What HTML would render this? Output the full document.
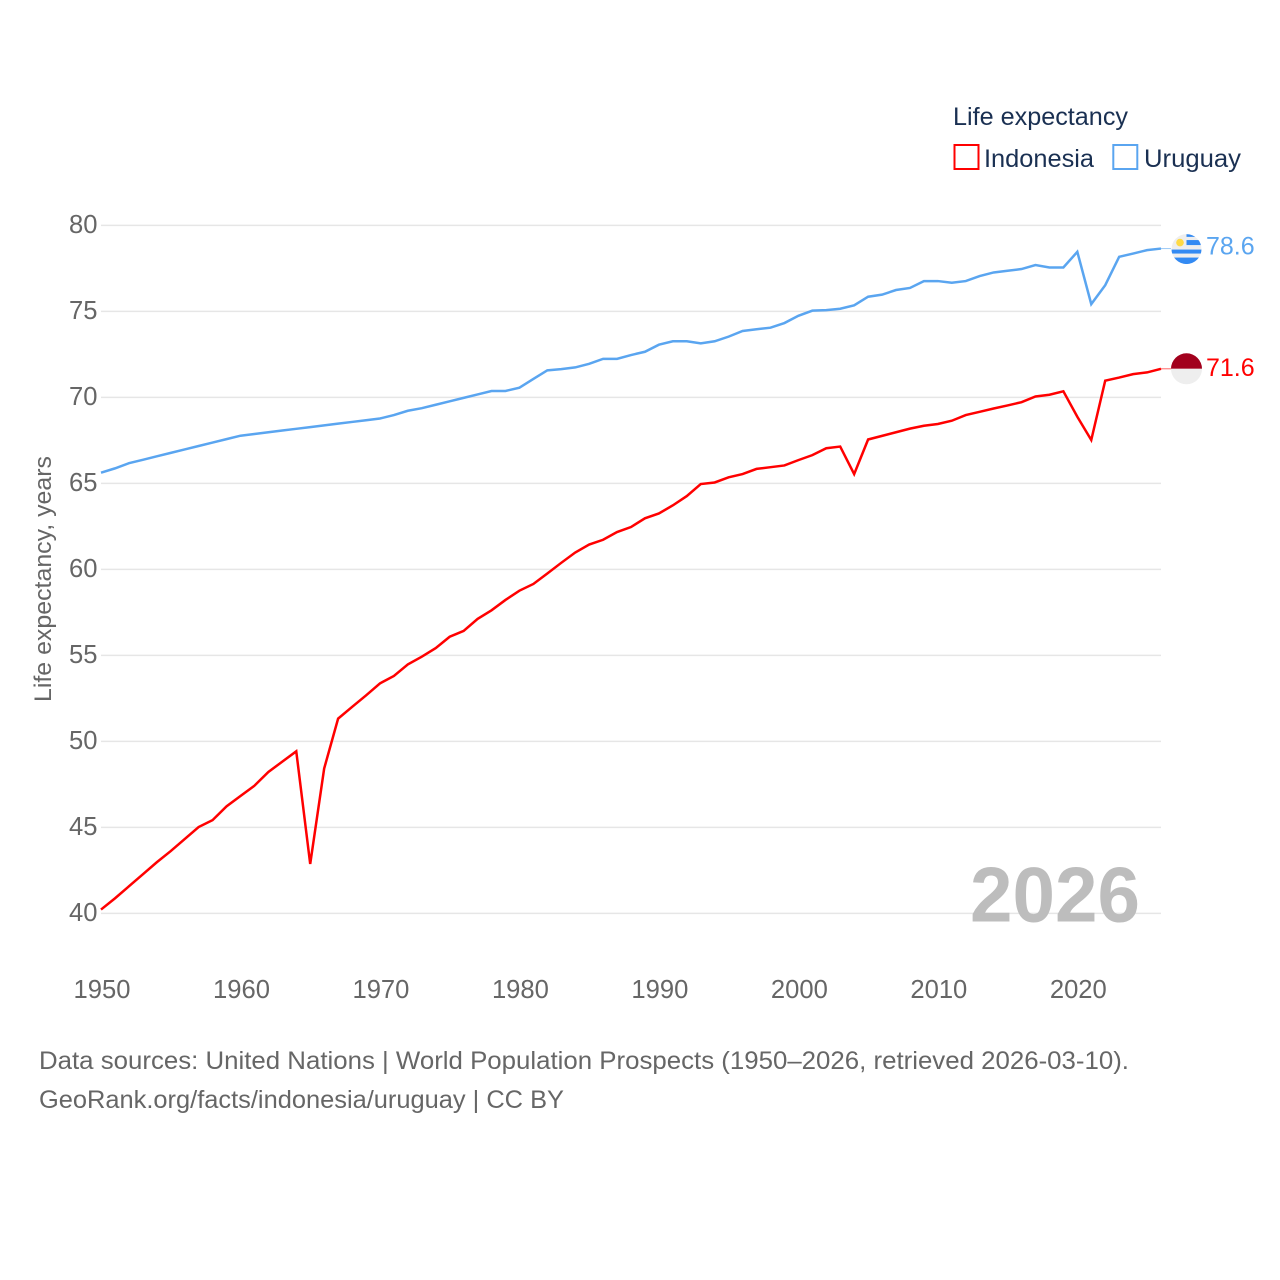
<!DOCTYPE html>
<html lang="en">
<head>
<meta charset="utf-8">
<title>Life expectancy: Indonesia and Uruguay</title>
<style>
html,body{margin:0;padding:0;background:#fff;width:1280px;height:1280px;overflow:hidden}
svg{display:block}
text{font-family:"Liberation Sans",sans-serif}
</style>
</head>
<body>
<svg id="chart" xmlns="http://www.w3.org/2000/svg" width="1280" height="1280" viewBox="0 0 1280 1280">
  <rect x="0" y="0" width="1280" height="1280" fill="#fff"/>
  <g id="grid"></g>
  <g id="yticks"></g>
  <g id="xticks"></g>
  <text transform="translate(51,702) rotate(-90)" font-size="24" fill="#666" textLength="246" lengthAdjust="spacingAndGlyphs">Life expectancy, years</text>

  <text x="970" y="921.5" font-size="78" font-weight="700" fill="#bdbdbd" textLength="170" lengthAdjust="spacingAndGlyphs">2026</text>

  <g id="series"></g>

  <g id="flag-uruguay">
    <defs>
      <clipPath id="clip-uy"><circle cx="0" cy="0" r="15"/></clipPath>
      <clipPath id="clip-id"><circle cx="0" cy="0" r="15.5"/></clipPath>
    </defs>
    <g clip-path="url(#clip-uy)">
      <rect x="-15" y="-15" width="30" height="30" fill="#eee"/>
      <rect x="0" y="-15" width="15" height="2.8" fill="#338af3"/>
      <rect x="0" y="-9" width="15" height="5" fill="#338af3"/>
      <rect x="-15" y="0.5" width="30" height="4" fill="#338af3"/>
      <rect x="-15" y="8.5" width="30" height="6.5" fill="#338af3"/>
      <circle cx="-6.5" cy="-6.5" r="3.8" fill="#ffda44"/>
    </g>
  </g>
  <g id="flag-indonesia">
    <g clip-path="url(#clip-id)">
      <rect x="-16" y="-16" width="32" height="16" fill="#a2001d"/>
      <rect x="-16" y="0" width="32" height="16" fill="#eee"/>
    </g>
  </g>
  <text id="label-uruguay" x="1206" font-size="25" fill="#5aa5f0"></text>
  <text id="label-indonesia" x="1206" font-size="25" fill="#f00"></text>

  <g>
    <text x="953" y="125" font-size="25" fill="#1a3052" textLength="175" lengthAdjust="spacingAndGlyphs">Life expectancy</text>
    <g>
      <rect x="954.5" y="145" width="24" height="24" fill="none" stroke="#f00" stroke-width="2"/>
      <text x="984" y="167" font-size="25" fill="#1a3052" textLength="110" lengthAdjust="spacingAndGlyphs">Indonesia</text>
    </g>
    <g>
      <rect x="1113.3" y="145" width="24" height="24" fill="none" stroke="#5aa5f0" stroke-width="2"/>
      <text x="1144" y="167" font-size="25" fill="#1a3052" textLength="97" lengthAdjust="spacingAndGlyphs">Uruguay</text>
    </g>
  </g>

  <text x="39" y="1069" font-size="25" fill="#666" textLength="1090" lengthAdjust="spacingAndGlyphs">Data sources: United Nations | World Population Prospects (1950–2026, retrieved 2026-03-10).</text>
  <text x="39" y="1108" font-size="25" fill="#666" textLength="525" lengthAdjust="spacingAndGlyphs">GeoRank.org/facts/indonesia/uruguay | CC BY</text>
</svg>
<script>
const firstYear = 1950;
const yTickValues = [40, 45, 50, 55, 60, 65, 70, 75, 80];
const xTickValues = [1950, 1960, 1970, 1980, 1990, 2000, 2010, 2020];
const indonesiaValues = [
  40.2, 40.85, 41.55, 42.25, 42.95, 43.6, 44.3, 45.0, 45.4, 46.2,
  46.8, 47.4, 48.2, 48.8, 49.4, 42.85, 48.4, 51.3, 51.98, 52.65,
  53.35, 53.78, 54.45, 54.9, 55.4, 56.06, 56.4, 57.1, 57.6, 58.2,
  58.74, 59.13, 59.74, 60.36, 60.96, 61.42, 61.7, 62.15, 62.44, 62.95,
  63.23, 63.7, 64.24, 64.94, 65.03, 65.33, 65.52, 65.82, 65.92, 66.02,
  66.33, 66.62, 67.02, 67.12, 65.52, 67.53, 67.74, 67.95, 68.16, 68.33,
  68.43, 68.62, 68.95, 69.14, 69.33, 69.51, 69.7, 70.03, 70.13, 70.33,
  68.85, 67.5, 70.95, 71.13, 71.33, 71.43, 71.64
];
const uruguayValues = [
  65.6, 65.85, 66.15, 66.35, 66.55, 66.75, 66.95, 67.15, 67.35, 67.55,
  67.75, 67.85, 67.95, 68.05, 68.15, 68.25, 68.35, 68.45, 68.55, 68.65,
  68.75, 68.95, 69.2, 69.35, 69.55, 69.75, 69.95, 70.15, 70.35, 70.35,
  70.54, 71.05, 71.55, 71.62, 71.72, 71.93, 72.22, 72.22, 72.44, 72.63,
  73.04, 73.24, 73.24, 73.12, 73.24, 73.51, 73.84, 73.94, 74.03, 74.3,
  74.72, 75.02, 75.05, 75.13, 75.33, 75.83, 75.95, 76.22, 76.34, 76.74,
  76.74, 76.64, 76.74, 77.03, 77.24, 77.34, 77.44, 77.67, 77.53, 77.53,
  78.44, 75.4, 76.5, 78.15, 78.34, 78.54, 78.63
];

const NS = 'http://www.w3.org/2000/svg';
const plotLeft = 101, plotRight = 1161, plotTop = 225, plotBottom = 913;
const xMin = 1950, xMax = 2026, yMin = 40, yMax = 80;

function xScale(year) {
  return plotLeft + (year - xMin) / (xMax - xMin) * (plotRight - plotLeft);
}
function yScale(value) {
  return plotBottom - (value - yMin) / (yMax - yMin) * (plotBottom - plotTop);
}
function pointsFor(values) {
  return values.map(function (v, i) {
    return xScale(firstYear + i).toFixed(2) + ',' + yScale(v).toFixed(2);
  }).join(' ');
}

const gridGroup = document.getElementById('grid');
const yTickGroup = document.getElementById('yticks');
const xTickGroup = document.getElementById('xticks');
const seriesGroup = document.getElementById('series');

yTickValues.forEach(function (v) {
  const line = document.createElementNS(NS, 'line');
  
  
  line.setAttribute('x1', plotLeft);
  line.setAttribute('x2', plotRight);
  line.setAttribute('y1', yScale(v) + 0.4);
  line.setAttribute('y2', yScale(v) + 0.4);
  line.setAttribute('stroke', '#e6e6e6');
  line.setAttribute('stroke-width', '1.5');
  gridGroup.appendChild(line);

  const label = document.createElementNS(NS, 'text');
  
  
  label.setAttribute('x', 97.5);
  label.setAttribute('y', yScale(v) + 8);
  label.setAttribute('text-anchor', 'end');
  label.setAttribute('font-size', '25.6');
  label.setAttribute('fill', '#666');
  label.textContent = v;
  yTickGroup.appendChild(label);
});

xTickValues.forEach(function (year) {
  const label = document.createElementNS(NS, 'text');
  
  
  label.setAttribute('x', xScale(year) + 1);
  label.setAttribute('y', 998);
  label.setAttribute('text-anchor', 'middle');
  label.setAttribute('font-size', '25.6');
  label.setAttribute('fill', '#666');
  label.textContent = year;
  xTickGroup.appendChild(label);
});

const indonesiaLine = document.createElementNS(NS, 'polyline');


indonesiaLine.setAttribute('points', pointsFor(indonesiaValues));
indonesiaLine.setAttribute('fill', 'none');
indonesiaLine.setAttribute('stroke', '#f00');
indonesiaLine.setAttribute('stroke-width', '2.5');
seriesGroup.appendChild(indonesiaLine);

const uruguayLine = document.createElementNS(NS, 'polyline');


uruguayLine.setAttribute('points', pointsFor(uruguayValues));
uruguayLine.setAttribute('fill', 'none');
uruguayLine.setAttribute('stroke', '#5aa5f0');
uruguayLine.setAttribute('stroke-width', '2.5');
seriesGroup.appendChild(uruguayLine);

const lastIndonesia = indonesiaValues[indonesiaValues.length - 1];
const lastUruguay = uruguayValues[uruguayValues.length - 1];

const indonesiaConnector = document.createElementNS(NS, 'line');


indonesiaConnector.setAttribute('x1', plotRight);
indonesiaConnector.setAttribute('x2', 1171);
indonesiaConnector.setAttribute('y1', yScale(lastIndonesia));
indonesiaConnector.setAttribute('y2', yScale(lastIndonesia));
indonesiaConnector.setAttribute('stroke', '#f00');
indonesiaConnector.setAttribute('stroke-opacity', '0.6');
seriesGroup.appendChild(indonesiaConnector);

const uruguayConnector = document.createElementNS(NS, 'line');


uruguayConnector.setAttribute('x1', plotRight);
uruguayConnector.setAttribute('x2', 1171);
uruguayConnector.setAttribute('y1', yScale(lastUruguay));
uruguayConnector.setAttribute('y2', yScale(lastUruguay));
uruguayConnector.setAttribute('stroke', '#5aa5f0');
uruguayConnector.setAttribute('stroke-opacity', '0.6');
seriesGroup.appendChild(uruguayConnector);

document.getElementById('flag-uruguay').setAttribute('transform', 'translate(1186.5,' + (yScale(lastUruguay) + 0.5) + ')');
document.getElementById('flag-indonesia').setAttribute('transform', 'translate(1186.5,' + yScale(lastIndonesia) + ')');

const labelUruguay = document.getElementById('label-uruguay');
labelUruguay.setAttribute('y', yScale(lastUruguay) + 6);
labelUruguay.textContent = lastUruguay.toFixed(1);

const labelIndonesia = document.getElementById('label-indonesia');
labelIndonesia.setAttribute('y', yScale(lastIndonesia) + 7);
labelIndonesia.textContent = lastIndonesia.toFixed(1);
</script>
</body>
</html>
